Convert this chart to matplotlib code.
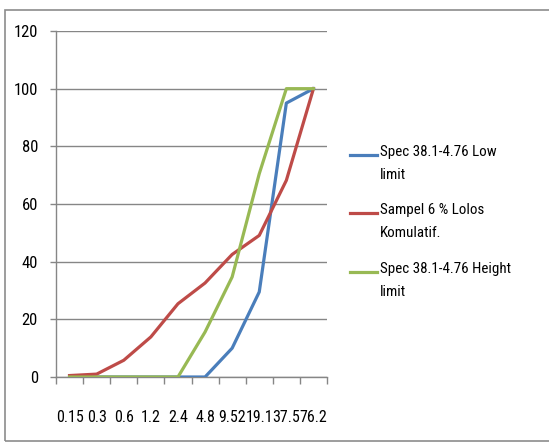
import matplotlib
matplotlib.use('Agg')
import matplotlib.pyplot as plt
from matplotlib.lines import Line2D
from matplotlib.patches import Rectangle
import numpy as np

plt.rcParams['font.family'] = ['Liberation Sans Narrow', 'Roboto Condensed', 'Roboto', 'DejaVu Sans']

sizes = ['0.15', '0.3', '0.6', '1.2', '2.4', '4.8', '9.52', '19.1', '37.5', '76.2']
low_limit = [0, 0, 0, 0, 0, 0, 10, 29.5, 95, 100]
sampel = [0.5, 1, 5.8, 13.9, 25.4, 32.6, 42.5, 49.1, 68.2, 100]
high_limit = [0, 0, 0, 0, 0, 15.6, 34.7, 70.5, 100, 100]

labels = ['Spec 38.1-4.76 Low\nlimit', 'Sampel 6 % Lolos\nKomulatif.', 'Spec 38.1-4.76 Height\nlimit']
colors = ['#4A7EBB', '#BE4B48', '#98B954']
grid_c = '#868686'

fig = plt.figure(figsize=(5.49, 4.42), dpi=100)
ax = fig.add_axes([56 / 549, 65 / 442, 271 / 549, 346 / 442])

x = np.arange(len(sizes))
for ys, c in zip([low_limit, sampel, high_limit], colors):
    ax.plot(x, ys, color=c, lw=2.3, solid_joinstyle='round', zorder=3)

ax.set_xlim(-0.5, len(sizes) - 0.5)
ax.set_ylim(0, 120)
ax.set_yticks(range(0, 121, 20))
ax.yaxis.grid(True, color=grid_c, lw=1)
ax.set_axisbelow(True)

ax.set_xticks(x)
ax.set_xticklabels(sizes, fontsize=11.5)
ax.set_xticks(np.arange(-0.5, len(sizes)), minor=True)
ax.tick_params(axis='x', which='major', length=0, pad=24)
ax.tick_params(axis='x', which='minor', length=5, color=grid_c, width=1)
ax.tick_params(axis='y', length=4, color=grid_c, width=1, labelsize=12, pad=9)

for s in ['top', 'right']:
    ax.spines[s].set_visible(False)
for s in ['left', 'bottom']:
    ax.spines[s].set_color(grid_c)
    ax.spines[s].set_linewidth(1)

# legend
leg_y = [155, 213, 272]
for lab, c, yy in zip(labels, colors, leg_y):
    fy = 1 - yy / 442
    fig.add_artist(Line2D([350 / 549, 377 / 549], [fy, fy], color=c, lw=2.3))
    fig.text(380 / 549, fy + 10 / 442, lab, fontsize=10.8, va='top', ha='left',
             linespacing=1.85)

fig.add_artist(Rectangle((5 / 549, 1 / 442), 560 / 549, 431 / 442, fill=False,
                         edgecolor='#8c8c8c', lw=1.2, transform=fig.transFigure))

fig.savefig('out.png', dpi=100)
